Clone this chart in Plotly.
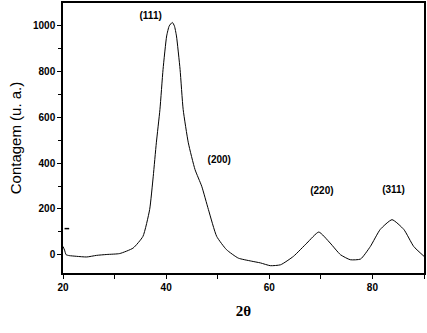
import plotly.graph_objects as go

two_theta = [20.0, 20.3, 20.6, 21.2, 22.6, 24.6, 26.5, 28.5, 31.0, 33.6, 35.5, 36.8, 37.5, 38.1, 38.8,
             39.4, 40.1, 40.6, 41.2, 41.6, 42.0, 42.7, 43.3, 44.3, 45.6, 46.9, 48.2, 49.8, 51.7, 54.0,
             56.5, 58.3, 60.2, 62.2, 64.7, 67.3, 69.6, 71.8, 73.8, 75.7, 77.7, 79.6, 81.5, 83.8, 86.1,
             88.0, 90.0]
counts = [36, 20, 0, -4, -7, -10, -3, 1, 5, 29, 80, 197, 343, 489, 635,
          810, 956, 1000, 1015, 1000, 956, 810, 635, 489, 372, 299, 197, 80, 22, -15,
          -28, -36, -48, -44, -7, 51, 99, 51, 0, -22, -19, 36, 110, 153, 110,
          36, -7]

dash_x = [20.3, 21.2]
dash_y = [114, 114]

labels = ["(111)", "(200)", "(220)", "(311)"]
label_x = [37.0, 50.3, 70.2, 84.1]
label_y = [1042, 412, 275, 280]

fig = go.Figure()
fig.add_trace(go.Scatter(x=two_theta, y=counts, mode="lines",
                         line=dict(color="black", width=1, shape="spline", smoothing=0.5), showlegend=False))
fig.add_trace(go.Scatter(x=dash_x, y=dash_y, mode="lines", line=dict(color="black", width=1.5), showlegend=False))
fig.add_trace(go.Scatter(x=label_x, y=label_y, mode="text", text=labels,
                         textfont=dict(family="Liberation Sans", size=10, color="black", weight="bold"),
                         showlegend=False))

axis_common = dict(showgrid=False, zeroline=False, showline=True, linecolor="black", linewidth=1.5,
                   mirror=True, ticks="outside", ticklen=4, tickcolor="black", automargin=False,
                   tickfont=dict(family="Liberation Sans", size=10, color="black", weight="bold"))
fig.update_xaxes(range=[20, 90], tickvals=[20, 40, 60, 80], **axis_common,
                 minor=dict(tickvals=[30, 50, 70, 90], ticks="outside", ticklen=4, tickcolor="black"),
                 title=dict(text="2θ", font=dict(family="Liberation Serif", size=15, color="black", weight="bold"),
                            standoff=14))
fig.update_yaxes(range=[-80, 1100], tickvals=[0, 200, 400, 600, 800, 1000], **axis_common,
                 minor=dict(tickvals=[100, 300, 500, 700, 900], ticks="outside", ticklen=3, tickcolor="black"),
                 title=dict(text="Contagem (u. a.)", font=dict(family="Liberation Sans", size=15, color="black"),
                            standoff=8))
fig.update_layout(width=427, height=333, margin=dict(l=63, r=3, t=3, b=60),
                  plot_bgcolor="white", paper_bgcolor="white", hovermode=False)
fig.write_html("out.html", config={"displayModeBar": False},
               post_script="document.body.style.margin='0';")
